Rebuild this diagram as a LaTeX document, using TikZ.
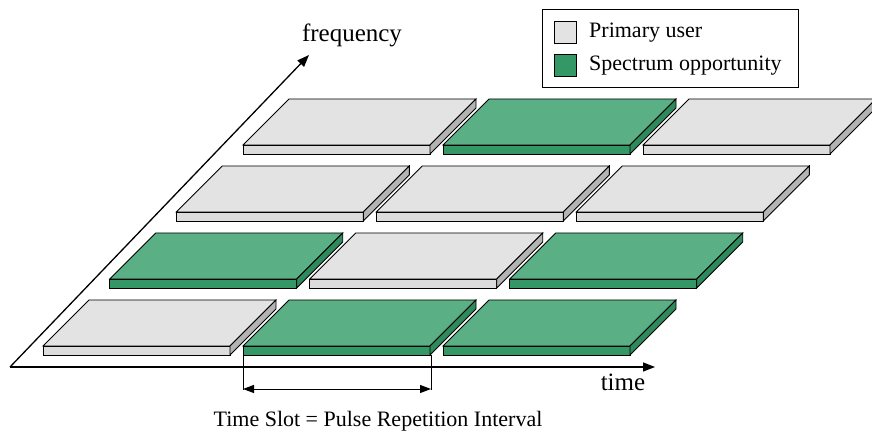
\documentclass[tikz,border=0pt]{standalone}
\usepackage{fontspec}
\setmainfont{Liberation Serif}
\usetikzlibrary{arrows.meta}
\definecolor{gtop}{HTML}{E3E3E3}
\definecolor{gfront}{HTML}{DCDCDC}
\definecolor{gside}{HTML}{B3B3B3}
\definecolor{ptop}{HTML}{5BAF85}
\definecolor{pfront}{HTML}{349866}
\definecolor{pside}{HTML}{2E8A5C}
\tikzset{
  edge/.style={draw=black, line width=0.9pt, line join=miter},
  axis/.style={line width=1.3pt, -{Triangle[length=12pt,width=9pt]}},
  dim/.style={line width=1pt, {Triangle[length=11pt,width=8pt]}-{Triangle[length=11pt,width=8pt]}},
  lbl/.style={font=\fontsize{22}{24}\selectfont, inner sep=0pt},
  axlbl/.style={font=\fontsize{25}{27}\selectfont, inner sep=0pt},
  pics/slab/.style 2 args={code={
    \fill[#1top, edge] (0,0) -- (187,0) -- (233,-46) -- (46,-46) -- cycle;
    \fill[#1front, edge] (0,0) rectangle (187,9);
    \fill[#1side, edge] (187,0) -- (233,-46) -- (233,-37) -- (187,9) -- cycle;
  }}
}
\begin{document}
\begin{tikzpicture}[x=1pt,y=-1pt]
\useasboundingbox (0,0) rectangle (872,435);
\clip (0,0) rectangle (872,435);
% axes
\coordinate (O) at (10,367);
\coordinate (T) at (655,367);
\coordinate (F) at (309,55);
\draw[axis] (O) -- (T);
\draw[axis] (O) -- (F);
\node[axlbl, anchor=base] (freq) at (352,42) {frequency};
\node[axlbl, anchor=base] (time) at (623,390) {time};
% slabs
\pic at (243,145) {slab={g}{}};
\pic at (443,145) {slab={p}{}};
\pic at (643,145) {slab={g}{}};
\pic at (176.3,212) {slab={g}{}};
\pic at (376.3,212) {slab={g}{}};
\pic at (576.3,212) {slab={g}{}};
\pic at (109.7,279) {slab={p}{}};
\pic at (309.7,279) {slab={g}{}};
\pic at (509.7,279) {slab={p}{}};
\pic at (43,346) {slab={g}{}};
\pic at (243,346) {slab={p}{}};
\pic at (443,346) {slab={p}{}};
% time slot
\coordinate (s1) at (243,355);
\coordinate (s2) at (431,355);
\coordinate (e1) at (243,389.5);
\coordinate (e2) at (431,389.5);
\draw[line width=1pt] (s1) -- (e1);
\draw[line width=1pt] (s2) -- (e2);
\coordinate (d1) at (243,389);
\coordinate (d2) at (431,389);
\draw[dim] (d1) -- (d2);
\node[lbl, anchor=base] (slot) at (378,426) {Time Slot = Pulse Repetition Interval};
% legend
\node[draw, line width=0.9pt, minimum width=256pt, minimum height=78pt, inner sep=0pt] (leg) at (670,48) {};
\node[draw, line width=0.9pt, fill=gtop, minimum size=22pt, inner sep=0pt] (k1) at (565.5,32) {};
\node[draw, line width=0.9pt, fill=pfront, minimum size=22pt, inner sep=0pt] (k2) at (565.5,65.5) {};
\node[lbl, anchor=base west] (t1) at (589,38) {Primary user};
\node[lbl, anchor=base west] (t2) at (589,71) {Spectrum opportunity};
\end{tikzpicture}
\end{document}
